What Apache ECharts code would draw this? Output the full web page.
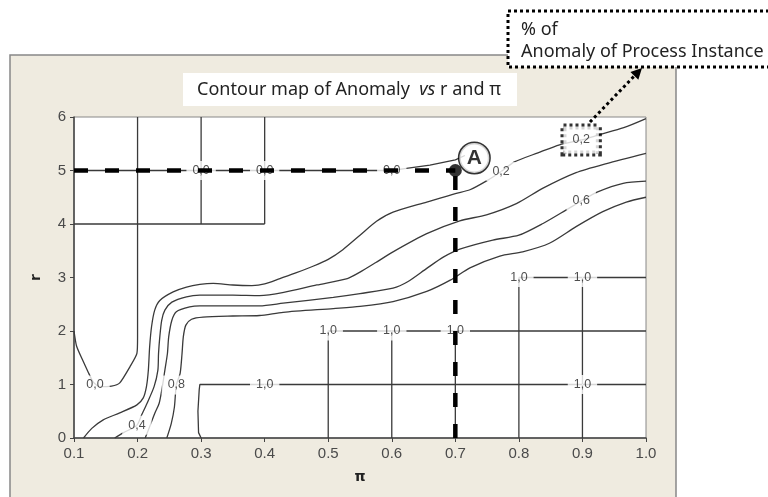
<!DOCTYPE html>
<html>
<head>
<meta charset="utf-8">
<script src="https://cdn.jsdelivr.net/npm/echarts@6.0.0/dist/echarts.min.js"></script>
<style>
    html, body { margin: 0; padding: 0; background: #fff; }
    #chart { width: 768px; height: 497px; }
</style>
</head>
<body>
<div id="chart"></div>
<script>
    // axis ranges (pi on x, r on y)
    const piRange = [0.1, 1.0]
    const rRange = [0, 6]

    // contour lines: [pi, r]
    const contour02 = [[0.115, 0], [0.128, 0.18], [0.146, 0.34], [0.172, 0.47], [0.199, 0.62], [0.209, 0.75],
        [0.214, 0.96], [0.217, 1.27], [0.219, 1.70], [0.222, 2.08], [0.227, 2.39], [0.235, 2.57], [0.256, 2.73],
        [0.277, 2.82], [0.298, 2.87], [0.319, 2.89], [0.35, 2.86], [0.38, 2.85], [0.40, 2.88], [0.424, 2.98],
        [0.45, 3.09], [0.476, 3.21], [0.50, 3.34], [0.523, 3.52], [0.55, 3.79], [0.576, 4.05], [0.602, 4.22],
        [0.655, 4.41], [0.70, 4.57], [0.723, 4.64], [0.754, 4.84], [0.772, 4.98], [0.793, 5.16], [0.83, 5.33],
        [0.864, 5.48], [0.898, 5.57], [0.927, 5.67], [0.965, 5.80], [1.0, 5.97]]
    const contour04 = [[0.164, 0], [0.178, 0.10], [0.199, 0.24], [0.206, 0.42], [0.215, 0.65], [0.226, 0.96],
        [0.232, 1.27], [0.233, 1.58], [0.235, 1.89], [0.238, 2.20], [0.243, 2.39], [0.254, 2.54], [0.277, 2.64],
        [0.298, 2.67], [0.35, 2.67], [0.392, 2.66], [0.43, 2.72], [0.482, 2.86], [0.53, 2.98], [0.55, 3.10],
        [0.575, 3.28], [0.602, 3.48], [0.655, 3.82], [0.707, 4.06], [0.749, 4.17], [0.796, 4.38], [0.838, 4.67],
        [0.890, 4.96], [0.938, 5.13], [1.0, 5.32]]
    const contour06 = [[0.212, 0], [0.219, 0.21], [0.227, 0.46], [0.234, 0.65], [0.239, 0.96], [0.243, 1.27],
        [0.247, 1.58], [0.249, 1.89], [0.254, 2.20], [0.261, 2.36], [0.282, 2.45], [0.298, 2.47], [0.35, 2.47],
        [0.392, 2.47], [0.429, 2.52], [0.508, 2.63], [0.55, 2.70], [0.602, 2.80], [0.625, 2.92], [0.655, 3.17],
        [0.681, 3.38], [0.707, 3.53], [0.759, 3.70], [0.80, 3.79], [0.838, 4.01], [0.874, 4.26], [0.898, 4.43],
        [0.924, 4.60], [0.964, 4.76], [1.0, 4.80]]
    const contour08 = [[0.246, 0], [0.253, 0.27], [0.258, 0.58], [0.261, 0.99], [0.267, 1.21], [0.270, 1.58],
        [0.272, 1.89], [0.276, 2.11], [0.285, 2.22], [0.303, 2.26], [0.35, 2.28], [0.392, 2.29], [0.429, 2.35],
        [0.508, 2.42], [0.55, 2.46], [0.602, 2.55], [0.655, 2.74], [0.692, 2.95], [0.723, 3.18], [0.77, 3.40],
        [0.806, 3.48], [0.848, 3.64], [0.890, 3.95], [0.932, 4.23], [0.969, 4.41], [1.0, 4.50]]
    const contour00 = [[0.1, 2.0], [0.104, 1.72], [0.113, 1.47], [0.122, 1.24], [0.13, 1.05], [0.14, 0.96],
        [0.159, 0.97], [0.172, 1.03], [0.188, 1.33], [0.199, 1.58], [0.2, 1.89], [0.2, 6]]

    // contour lines that follow the coarse grid
    const zeroSegments = [
        [[0.3, 6], [0.3, 4]],
        [[0.4, 6], [0.4, 4]],
        [[0.1, 4], [0.4, 4]],
        [[0.1, 5], [0.6, 5], [0.623, 5.04], [0.66, 5.1], [0.7, 5.2], [0.715, 5.28]]
    ]
    const oneSegments = [
        [[0.3, 0], [0.296, 0.1], [0.295, 0.5], [0.297, 0.9], [0.298, 1.0], [1.0, 1.0]],
        [[0.5, 0], [0.5, 2], [1.0, 2]],
        [[0.6, 0], [0.6, 2]],
        [[0.7, 0], [0.7, 2]],
        [[0.8, 0], [0.8, 3], [1.0, 3]],
        [[0.9, 0], [0.9, 3]]
    ]

    // contour labels: [pi, r, text]
    const contourLabels = [
        [0.133, 0.99, '0,0'], [0.3, 5, '0,0'], [0.4, 5, '0,0'], [0.6, 5, '0,0'],
        [0.199, 0.24, '0,4'], [0.261, 0.99, '0,8'], [0.772, 4.98, '0,2'], [0.898, 4.43, '0,6'],
        [0.4, 1, '1,0'], [0.9, 1, '1,0'], [0.5, 2, '1,0'], [0.6, 2, '1,0'], [0.7, 2, '1,0'],
        [0.8, 3, '1,0'], [0.9, 3, '1,0']
    ]
    const boxedLabel = [0.898, 5.57, '0,2']

    // point A and its guide lines
    const pointA = [0.7, 5]
    const guideH = [[0.1, 5], [0.7, 5]]
    const guideV = [[0.7, 0], [0.7, 5]]

    const lineColor = '#3a3a3a'

    function contourSeries (data, smooth) {
        return {
            type: 'line',
            data: data,
            smooth: smooth,
            symbol: 'none',
            silent: true,
            z: 2,
            lineStyle: { color: lineColor, width: 1.3 }
        }
    }

    function labelData (d) {
        return { value: [d[0], d[1]], name: d[2] }
    }

    const labelStyle = {
        show: true,
        position: 'inside',
        formatter: '{b}',
        fontFamily: 'Liberation Sans',
        fontSize: 12.5,
        color: '#222',
        textBorderWidth: 0,
        textBorderColor: 'transparent',
        backgroundColor: '#fff',
        padding: [3, 6]
    }

    const series = [
        contourSeries(contour02, 0.25),
        contourSeries(contour04, 0.25),
        contourSeries(contour06, 0.25),
        contourSeries(contour08, 0.25),
        contourSeries(contour00, 0.2)
    ]
    zeroSegments.forEach(s => series.push(contourSeries(s, false)))
    oneSegments.forEach(s => series.push(contourSeries(s, false)))

    series.push({
        type: 'scatter',
        silent: true,
        z: 3,
        symbolSize: 1,
        itemStyle: { color: '#fff' },
        data: contourLabels.map(labelData),
        label: labelStyle
    })
    series.push({
        type: 'scatter',
        silent: true,
        z: 3,
        symbolSize: 1,
        itemStyle: { color: '#fff' },
        data: [labelData(boxedLabel)],
        label: Object.assign({}, labelStyle, {
            padding: [7, 9],
            borderColor: '#000',
            borderWidth: 3,
            borderType: [3, 3]
        })
    })
    // thick dashed guides to point A
    ;[guideH, guideV].forEach(g => series.push({
        type: 'line',
        data: g,
        symbol: 'none',
        silent: true,
        z: 4,
        lineStyle: { color: '#000', width: 4.5, type: [14, 17] }
    }))
    series.push({
        type: 'scatter',
        silent: true,
        z: 5,
        symbolSize: 13,
        itemStyle: { color: '#000' },
        data: [pointA],
        label: {
            show: true,
            position: 'inside',
            offset: [19, -12.5],
            formatter: 'A',
            fontFamily: 'Liberation Sans',
            fontWeight: 'bold',
            fontSize: 21,
            color: '#000',
            textBorderWidth: 0,
            backgroundColor: '#fff',
            borderColor: '#000',
            borderWidth: 1.5,
            borderRadius: 15,
            width: 28,
            height: 28,
            lineHeight: 28,
            padding: 1,
            align: 'center',
            verticalAlign: 'middle'
        }
    })

    // arrow from the boxed label to the note
    const tail = [590, 122]
    const tip = [642, 68]
    const len = Math.hypot(tip[0] - tail[0], tip[1] - tail[1])
    const dir = [(tip[0] - tail[0]) / len, (tip[1] - tail[1]) / len]
    const base = [tip[0] - dir[0] * 11, tip[1] - dir[1] * 11]
    const head = [tip, [base[0] + dir[1] * 5.5, base[1] - dir[0] * 5.5], [base[0] - dir[1] * 5.5, base[1] + dir[0] * 5.5]]

    const chart = echarts.init(document.getElementById('chart'))
    chart.setOption({
        animation: false,
        backgroundColor: '#fff',
        grid: {
            show: true,
            left: 74,
            right: 122,
            top: 117,
            bottom: 59,
            backgroundColor: '#fff',
            borderColor: '#888',
            borderWidth: 1
        },
        xAxis: {
            type: 'value',
            min: piRange[0],
            max: piRange[1],
            interval: 0.1,
            name: 'π',
            nameLocation: 'middle',
            nameGap: 32,
            nameTextStyle: { fontFamily: 'DejaVu Sans', fontWeight: 'bold', fontSize: 14, color: '#222' },
            axisLine: { lineStyle: { color: '#444', width: 1.5 } },
            axisTick: { length: 4, lineStyle: { color: '#444' } },
            splitLine: { show: false },
            axisLabel: {
                fontFamily: 'Liberation Sans',
                fontSize: 15,
                color: '#4a4a4a',
                margin: 8,
                formatter: v => v.toFixed(1)
            }
        },
        yAxis: {
            type: 'value',
            min: rRange[0],
            max: rRange[1],
            interval: 1,
            name: 'r',
            nameLocation: 'middle',
            nameRotate: 90,
            nameGap: 31,
            nameTextStyle: { fontFamily: 'DejaVu Sans', fontWeight: 'bold', fontSize: 14, color: '#222' },
            axisLine: { lineStyle: { color: '#444', width: 1.5 } },
            axisTick: { length: 4, lineStyle: { color: '#444' } },
            splitLine: { show: false },
            axisLabel: { fontFamily: 'Liberation Sans', fontSize: 15, color: '#4a4a4a', margin: 8 }
        },
        graphic: [
            {
                type: 'rect', z: -10,
                shape: { x: 10, y: 55, width: 666, height: 460 },
                style: { fill: '#EFEBE0', stroke: '#888', lineWidth: 1.5 }
            },
            {
                type: 'rect', z: 10,
                shape: { x: 183, y: 73, width: 334, height: 33 },
                style: { fill: '#fff' }
            },
            {
                type: 'text', z: 11, x: 349, y: 90,
                style: {
                    text: 'Contour map of Anomaly  {i|vs} r and π',
                    fontFamily: 'Noto Sans',
                    fontSize: 18,
                    fill: '#222',
                    align: 'center',
                    verticalAlign: 'middle',
                    textAlign: 'center',
                    textVerticalAlign: 'middle',
                    rich: { i: { fontFamily: 'Noto Sans', fontSize: 18, fontStyle: 'italic', fill: '#222' } }
                }
            },
            {
                type: 'rect', z: 10,
                shape: { x: 508, y: 11, width: 280, height: 56 },
                style: { fill: '#fff', stroke: '#000', lineWidth: 3, lineDash: [3, 3] }
            },
            {
                type: 'text', z: 11, x: 521, y: 30,
                style: {
                    text: '% of', fontFamily: 'Noto Sans', fontSize: 18, fill: '#222',
                    align: 'left', verticalAlign: 'middle', textAlign: 'left', textVerticalAlign: 'middle'
                }
            },
            {
                type: 'text', z: 11, x: 521, y: 52,
                style: {
                    text: 'Anomaly of Process Instance', fontFamily: 'Noto Sans', fontSize: 18, fill: '#222',
                    align: 'left', verticalAlign: 'middle', textAlign: 'left', textVerticalAlign: 'middle'
                }
            },
            {
                type: 'line', z: 12,
                shape: { x1: tail[0], y1: tail[1], x2: base[0], y2: base[1] },
                style: { stroke: '#000', lineWidth: 3, lineDash: [3, 3] }
            },
            {
                type: 'polygon', z: 12,
                shape: { points: head },
                style: { fill: '#000' }
            }
        ],
        series: series
    })
</script>
</body>
</html>
